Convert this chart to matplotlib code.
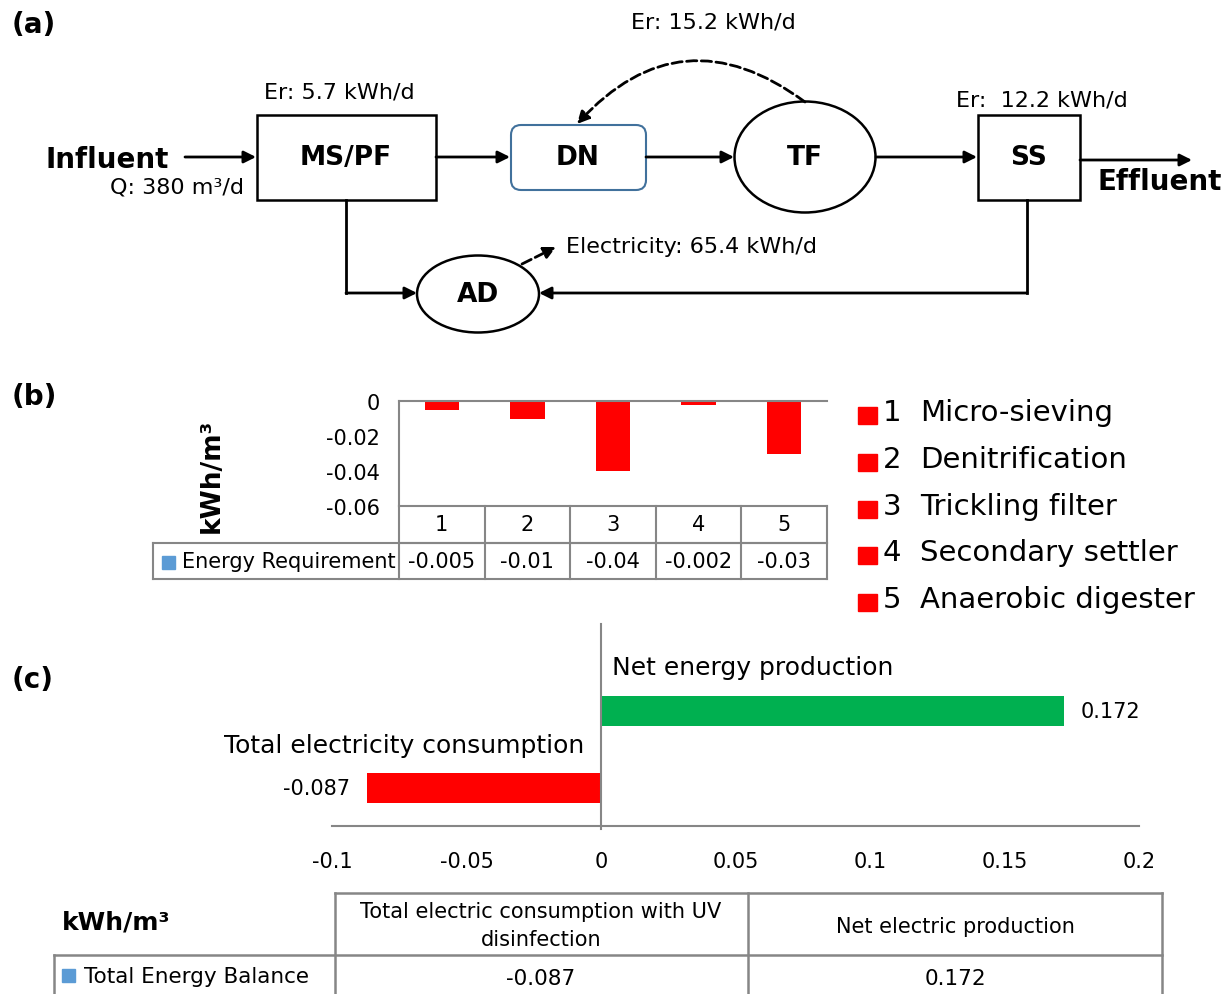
import matplotlib.pyplot as plt
from matplotlib.patches import Ellipse, Rectangle, FancyBboxPatch
from matplotlib.transforms import blended_transform_factory

plt.rcParams['font.family'] = ['DejaVu Sans']

W, H = 1227, 995

# (a) flow scheme texts
flow_q = 'Q: 380 m³/d'
er_mspf = 'Er: 5.7 kWh/d'
er_tf = 'Er: 15.2 kWh/d'
er_ss = 'Er:  12.2 kWh/d'
electricity = 'Electricity: 65.4 kWh/d'

# (b) energy requirement per unit (kWh/m3)
units = [1, 2, 3, 4, 5]
unit_names = ['Micro-sieving', 'Denitrification', 'Trickling filter',
              'Secondary settler', 'Anaerobic digester']
energy_req = [-0.005, -0.01, -0.04, -0.002, -0.03]
energy_req_txt = ['-0.005', '-0.01', '-0.04', '-0.002', '-0.03']
b_yticks = [0, -0.02, -0.04, -0.06]
b_yticklabels = ['0', '-0.02', '-0.04', '-0.06']

# (c) total energy balance (kWh/m3)
balance_labels = ['Total electricity consumption', 'Net energy production']
balance = [-0.087, 0.172]
balance_txt = ['-0.087', '0.172']
balance_colors = ['#FF0000', '#00B050']
c_xticks = [-0.1, -0.05, 0, 0.05, 0.1, 0.15, 0.2]
c_xticklabels = ['-0.1', '-0.05', '0', '0.05', '0.1', '0.15', '0.2']
table_cols = ['Total electric consumption with UV\ndisinfection', 'Net electric production']

GRAY = '#868686'

fig = plt.figure(figsize=(W / 100, H / 100), dpi=100)

# overlay in pixel coords for the scheme, panel letters and table (c)
ov = fig.add_axes([0, 0, 1, 1], zorder=0)
ov.set_xlim(0, W)
ov.set_ylim(H, 0)
ov.axis('off')


def arrow(x0, y0, x1, y1, ls='-', rad=0.0):
    ov.annotate('', xy=(x1, y1), xytext=(x0, y0),
                arrowprops=dict(arrowstyle='-|>', color='black', lw=2, ls=ls,
                                mutation_scale=18, shrinkA=0, shrinkB=0,
                                connectionstyle='arc3,rad=%s' % rad))


for lbl, y in [('(a)', 25), ('(b)', 397), ('(c)', 680)]:
    ov.text(12, y, lbl, fontsize=20, fontweight='bold', va='center', ha='left')

# boxes
ov.add_patch(Rectangle((257, 116), 179, 85, fill=False, lw=1.8))
ov.add_patch(FancyBboxPatch((511, 126), 135, 65, boxstyle='round,pad=0,rounding_size=10',
                            ec='#41719C', fc='white', lw=1.5))
ov.add_patch(Ellipse((805, 158), 141, 111, fill=False, lw=1.8))
ov.add_patch(Rectangle((978, 116), 102, 85, fill=False, lw=1.8))
ov.add_patch(Ellipse((478, 295), 122, 77, fill=False, lw=1.8))

bold = dict(fontsize=19, fontweight='bold', va='center', ha='center')
ov.text(346, 158, 'MS/PF', **bold)
ov.text(578, 158, 'DN', **bold)
ov.text(805, 158, 'TF', **bold)
ov.text(1029, 158, 'SS', **bold)
ov.text(478, 295, 'AD', **bold)
ov.text(45, 160, 'Influent', fontsize=20, fontweight='bold', va='center', ha='left')
ov.text(1097, 182, 'Effluent', fontsize=20, fontweight='bold', va='center', ha='left')

small = dict(fontsize=16, va='center')
ov.text(244, 188, flow_q, ha='right', **small)
ov.text(339, 92, er_mspf, ha='center', **small)
ov.text(713, 23, er_tf, ha='center', **small)
ov.text(1042, 100, er_ss, ha='center', **small)
ov.text(566, 247, electricity, ha='left', **small)

# flow arrows
arrow(185, 158, 256, 158)
arrow(436, 158, 510, 158)
arrow(646, 158, 734, 158)
arrow(876, 158, 977, 158)
arrow(1080, 161, 1192, 161)
ov.plot([346, 346], [201, 294], color='black', lw=2, solid_capstyle='projecting')
arrow(346, 294, 417, 294)
ov.plot([1027, 1027], [201, 294], color='black', lw=2, solid_capstyle='projecting')
arrow(1027, 294, 539, 294)
arrow(805, 103, 577, 125, ls='--', rad=0.45)
arrow(522, 265, 556, 248, ls='--')

# (b) bar chart with data table
axb = fig.add_axes([399 / W, (H - 507) / H, 428 / W, 105 / H], zorder=2)
axb.patch.set_alpha(0)
axb.bar(units, energy_req, width=0.4, color='#FF0000')
axb.set_xlim(0.5, 5.5)
axb.set_ylim(-0.06, 0)
axb.set_yticks(b_yticks)
axb.set_yticklabels(b_yticklabels)
axb.tick_params(axis='y', length=0, pad=14, labelsize=15)
axb.set_xticks([])
for s in ['left', 'top', 'bottom']:
    axb.spines[s].set_color(GRAY)
    axb.spines[s].set_linewidth(1.5)
axb.spines['right'].set_visible(False)

tb = blended_transform_factory(axb.transData, axb.transAxes)
r1, r2 = -0.352, -0.695
lab_left = -2.37
line_kw = dict(color=GRAY, lw=1.5, transform=tb, clip_on=False)
axb.plot([0.5, 5.5], [r1, r1], **line_kw)
axb.plot([lab_left, 5.5], [r1, r1], **line_kw)
axb.plot([lab_left, 5.5], [r2, r2], **line_kw)
axb.plot([lab_left, lab_left], [r1, r2], **line_kw)
for i in range(6):
    axb.plot([0.5 + i, 0.5 + i], [0, r2], **line_kw)
for u, t in zip(units, energy_req_txt):
    axb.text(u, r1 / 2, str(u), transform=tb, ha='center', va='center', fontsize=15)
    axb.text(u, (r1 + r2) / 2, t, transform=tb, ha='center', va='center', fontsize=15)
axb.text(0.46, (r1 + r2) / 2, 'Energy Requirement', transform=tb, ha='right', va='center', fontsize=15)
ov.add_patch(Rectangle((162, 557), 13, 13, color='#5B9BD5'))
ov.text(212, 476, 'kWh/m³', rotation=90, fontsize=19, fontweight='bold', ha='center', va='center')

# (b) legend
for k, (u, name) in enumerate(zip(units, unit_names)):
    y = 413 + k * 46.8
    ov.add_patch(Rectangle((858, y - 5), 19, 17, color='#FF0000'))
    ov.text(883, y, str(u), fontsize=21, va='center', ha='left')
    ov.text(920, y, name, fontsize=21, va='center', ha='left')

# (c) horizontal bars
axc = fig.add_axes([332 / W, (H - 827) / H, 807 / W, 202 / H], zorder=2)
axc.patch.set_alpha(0)
ypos = [0, 1]
axc.barh(ypos, balance, height=0.4, color=balance_colors)
axc.set_xlim(-0.1, 0.2)
axc.set_ylim(-0.494, 2.13)
axc.set_xticks(c_xticks)
axc.set_xticklabels(c_xticklabels)
axc.tick_params(axis='x', length=0, pad=18, labelsize=15)
axc.set_yticks([])
for s in ['left', 'top', 'right']:
    axc.spines[s].set_visible(False)
axc.spines['bottom'].set_color(GRAY)
axc.spines['bottom'].set_linewidth(1.5)
axc.axvline(0, ymin=-0.015, ymax=1, color=GRAY, lw=1.5, clip_on=False)
for y, v, t, name in zip(ypos, balance, balance_txt, balance_labels):
    if v >= 0:
        axc.annotate(t, (v, y), xytext=(12, 0), textcoords='offset points', ha='left', va='center', fontsize=15)
        axc.annotate(name, (0, y + 0.57), xytext=(8, 0), textcoords='offset points', ha='left', va='center', fontsize=18)
    else:
        axc.annotate(t, (v, y), xytext=(-12, 0), textcoords='offset points', ha='right', va='center', fontsize=15)
        axc.annotate(name, (0, y + 0.56), xytext=(-12, 0), textcoords='offset points', ha='right', va='center', fontsize=18)

# (c) table
tkw = dict(color=GRAY, lw=1.8)
ov.plot([335, 1162], [894, 894], **tkw)
ov.plot([54, 1162], [956, 956], **tkw)
for x in [335, 748, 1162]:
    ov.plot([x, x], [894, 995], **tkw)
ov.plot([54, 54], [956, 995], **tkw)
ov.text(62, 922, 'kWh/m³', fontsize=18, fontweight='bold', ha='left', va='center')
ov.text(541, 926, table_cols[0], fontsize=15, ha='center', va='center', linespacing=1.5)
ov.text(955, 927, table_cols[1], fontsize=15, ha='center', va='center')
ov.add_patch(Rectangle((62, 970), 13, 13, color='#5B9BD5'))
ov.text(84, 977, 'Total Energy Balance', fontsize=15.5, ha='left', va='center')
ov.text(541, 979, balance_txt[0], fontsize=15.5, ha='center', va='center')
ov.text(955, 979, balance_txt[1], fontsize=15.5, ha='center', va='center')

fig.savefig('out.png', dpi=100)
